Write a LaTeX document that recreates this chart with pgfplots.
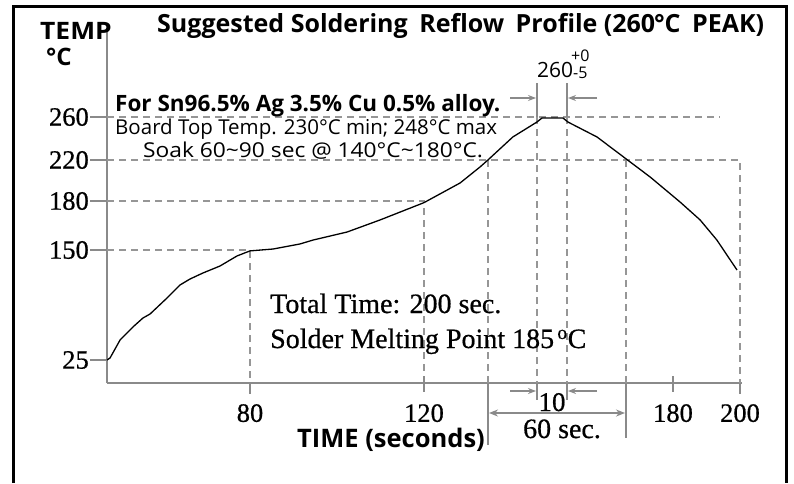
\documentclass[border=0pt]{standalone}
\usepackage{fontspec}
\usepackage{pgfplots}
\pgfplotsset{compat=1.18}
\usetikzlibrary{arrows.meta}
\setmainfont{Liberation Serif}[FakeBold=0.6]
\newfontfamily\osans{Open Sans}
\definecolor{axgray}{RGB}{138,138,138}
\definecolor{dgray}{RGB}{150,150,150}
\begin{document}
\begin{tikzpicture}
\useasboundingbox (0,0) rectangle (794pt,483pt);
\begin{axis}[
  at={(107pt,100pt)}, anchor=south west,
  scale only axis, width=635pt, height=355pt,
  x coord trafo/.code={\pgfmathparse{#1<80 ? #1*1.7875 : (#1<120 ? 143+(#1-80)*4.35 : (#1<180 ? 317+(#1-120)*4.15 : 566+(#1-180)*3.35))}},
  y coord trafo/.code={\pgfmathparse{#1<25 ? #1*0.92 : (#1<150 ? 23+(#1-25)*0.88 : (#1<180 ? 133+(#1-150)*1.633333 : (#1<220 ? 182+(#1-180)*1.025 : 223+(#1-220)*1.075)))}},
  xmin=0, xmax=200.6, ymin=0, ymax=342.8,
  axis lines=left,
  axis line style={-, draw=axgray, line width=2.5pt},
  every outer x axis line/.append style={-},
  every outer y axis line/.append style={-},
  tick align=outside,
  major tick length=17pt,
  ytick={25,150,180,220,260},
  yticklabels={25,150,180,220,260},
  xtick={80,120,180,200},
  xticklabels={80,120,180,200},
  ytick style={draw=axgray, line width=1.5pt},
  xtick style={draw=none},
  tick label style={font=\fontsize{26.5}{26.5}\selectfont},
  yticklabel style={inner sep=1pt},
  xticklabel style={inner sep=1pt, yshift=-3pt},
  clip=false,
]
\draw[dgray, line width=1.4pt, dash pattern=on 7pt off 5pt] (axis cs:0,260) -- (axis cs:194,260);
\draw[dgray, line width=1.4pt, dash pattern=on 7pt off 5pt] (axis cs:0,220) -- (axis cs:200,220) -- (axis cs:200,0);
\draw[dgray, line width=1.4pt, dash pattern=on 7pt off 5pt] (axis cs:0,180) -- (axis cs:120,180) -- (axis cs:120,0);
\draw[dgray, line width=1.4pt, dash pattern=on 7pt off 5pt] (axis cs:0,150) -- (axis cs:80,150) -- (axis cs:80,0);
\draw[dgray, line width=1.4pt, dash pattern=on 7pt off 5pt] (axis cs:135.4,220) -- (axis cs:135.4,0);
\draw[dgray, line width=1.4pt, dash pattern=on 7pt off 5pt] (axis cs:147.2,260) -- (axis cs:147.2,0);
\draw[dgray, line width=1.4pt, dash pattern=on 7pt off 5pt] (axis cs:154.5,260) -- (axis cs:154.5,0);
\draw[dgray, line width=1.4pt, dash pattern=on 7pt off 5pt] (axis cs:168.7,220) -- (axis cs:168.7,0);
\draw[axgray, line width=1.4pt] (axis cs:147.2,260) -- (axis cs:147.2,291.6);
\draw[axgray, line width=1.4pt] (axis cs:154.5,260) -- (axis cs:154.5,291.6);
\addplot[black, line width=1.3pt] coordinates {(0,25) (1.7,27.3) (7.3,47.7) (14.5,62.5) (20.1,72.7) (24.1,77.3) (33.6,95.5) (40.8,110.2) (46.4,117.0) (53.7,123.9) (63.2,131.8) (72.7,143.2) (80,149) (85.3,150.6) (91.5,153.7) (94.5,156.1) (102.3,161.0) (109.9,168.4) (120,179) (128.7,197.6) (133.5,213.2) (135.4,220) (141.4,241.4) (147.2,255.3) (148.4,259) (153.5,259) (154.7,255.3) (161.7,241.4) (168.4,221.9) (174.5,203.4) (182.1,179.4) (188.1,168.4) (193.1,156.1) (199.1,127.3)};
\end{axis}
\begin{scope}[x=1pt, y=-1pt, yshift=483pt]
\draw[black, line width=3pt] (13,483) -- (13,7) -- (786,7) -- (786,483);
% x ticks
\draw[axgray, line width=1.5pt] (250,383) -- (250,394);
\draw[axgray, line width=1.5pt] (424,376) -- (424,392);
\draw[axgray, line width=1.5pt] (673,376) -- (673,392);
\draw[axgray, line width=1.5pt] (740,383) -- (740,394);
% dimension lines
\draw[axgray, line width=1.4pt] (488,383) -- (488,445);
\draw[axgray, line width=1.4pt] (626,383) -- (626,438);
\draw[axgray, line width=1.4pt] (537,383) -- (537,400);
\draw[axgray, line width=1.4pt] (567,383) -- (567,400);
\draw[axgray, line width=1.4pt, {Stealth[length=9pt,width=7pt]}-{Stealth[length=9pt,width=7pt]}] (489,413) -- (625,413);
\draw[axgray, line width=1.4pt, -{Stealth[length=8pt,width=6pt]}] (510,391) -- (536,391);
\draw[axgray, line width=1.4pt, -{Stealth[length=8pt,width=6pt]}] (597,391) -- (568,391);
\draw[axgray, line width=1.2pt, -{Stealth[length=8pt,width=6pt]}] (510,98) -- (536,98);
\draw[axgray, line width=1.2pt, -{Stealth[length=8pt,width=6pt]}] (597,98) -- (568,98);
% texts
\node[anchor=base west, inner sep=0, font=\osans\bfseries\fontsize{25}{25}\selectfont] at (157,33) {Suggested Soldering\hspace{0.2em} Reflow\hspace{0.2em} Profile (260\kern-0.05em°C\hspace{0.2em} PEAK)};
\node[anchor=base west, inner sep=0, font=\osans\bfseries\fontsize{24}{24}\selectfont] at (40,40) {\scalebox{1.1}[1]{TEMP}};
\node[anchor=base west, inner sep=0, font=\osans\bfseries\fontsize{24}{24}\selectfont] at (46,66) {°C};
\node[anchor=base west, inner sep=0, font=\osans\bfseries\fontsize{22.5}{22.5}\selectfont] at (115,112) {For Sn96.5\% Ag 3.5\% Cu 0.5\% alloy.};
\node[anchor=base west, inner sep=0, font=\osans\fontsize{20.5}{20.5}\selectfont] at (115,134) {Board Top Temp. 230°C min; 248°C max};
\node[anchor=base west, inner sep=0, font=\osans\fontsize{20.5}{20.5}\selectfont] at (143,157) {\scalebox{1.11}[1]{Soak 60\textasciitilde 90 sec @ 140°C\textasciitilde 180°C.}};
\node[anchor=base west, inner sep=0, font=\osans\fontsize{21}{21}\selectfont] at (537,77) {260};
\node[anchor=base west, inner sep=0, font=\osans\fontsize{16}{16}\selectfont] at (571,62) {+0};
\node[anchor=base west, inner sep=0, font=\osans\fontsize{16}{16}\selectfont] at (573,79) {-5};
\node[anchor=base west, inner sep=0, font=\fontsize{28}{28}\selectfont] at (270,313) {Total Time: 200 sec.};
\node[anchor=base west, inner sep=0, font=\fontsize{28}{28}\selectfont] at (270,348) {Solder Melting Point 185\textsuperscript{\,o}C};
\node[anchor=base west, inner sep=0, font=\osans\bfseries\fontsize{25.5}{25.5}\selectfont] at (297,447) {TIME (seconds)};
\node[anchor=base, inner sep=0, font=\fontsize{27}{27}\selectfont] at (552,411) {10};
\node[anchor=base, inner sep=0, font=\fontsize{28}{28}\selectfont] at (562,438) {60 sec.};
\end{scope}
\end{tikzpicture}
\end{document}
